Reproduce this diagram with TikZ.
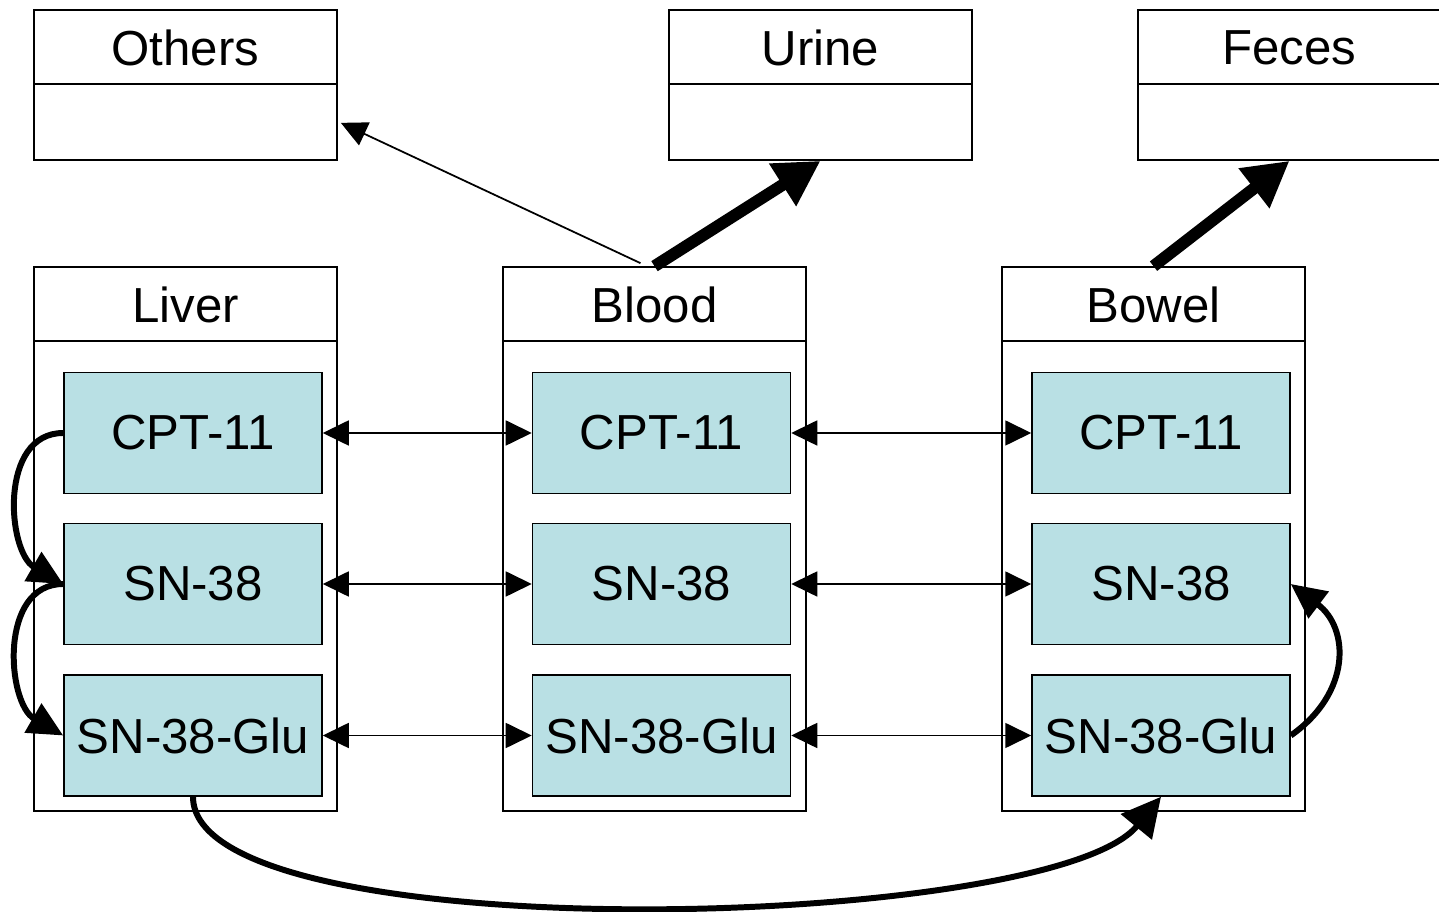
\documentclass[tikz,border=0pt]{standalone}
\usepackage{fontspec}
\setmainfont{Liberation Sans}
\usetikzlibrary{arrows.meta,calc}
\definecolor{cellfill}{RGB}{185,224,228}
\begin{document}
\begin{tikzpicture}[x=0.02cm,y=0.02cm,
  every node/.style={font=\fontsize{28}{32}\selectfont},
  compartment/.style={draw,line width=1pt,minimum width=6.06cm,minimum height=10.88cm,inner sep=0pt},
  sink/.style={draw,line width=1pt,minimum width=6.06cm,minimum height=3cm,inner sep=0pt},
  cell/.style={draw,line width=0.9pt,fill=cellfill,minimum width=5.16cm,minimum height=2.42cm,inner sep=0pt},
  exchange/.style={line width=1pt,{Triangle[length=0.52cm,width=0.5cm]}-{Triangle[length=0.52cm,width=0.5cm]}},
  transfer/.style={line width=1pt,-{Triangle[length=0.52cm,width=0.5cm]}},
  excretion/.style={line width=6.8pt,-{Triangle[length=0.9cm,width=0.95cm]}},
  conversion/.style={line width=3.4pt,-{Triangle[length=0.7cm,width=0.65cm]}},
  divider/.style={line width=1pt}
]
\useasboundingbox (0,0) rectangle (1439,912);

% sinks along the top
\node[sink] (others) at (185.5,827) {};
\node[sink] (urine)  at (820.5,827) {};
\node[sink] (feces)  at (1289.5,827) {};
\foreach \s/\t in {others/Others,urine/Urine,feces/Feces}{
  \draw[divider] ($(\s.north west)+(0,-75)$) -- ($(\s.north east)+(0,-75)$);
  \node (\s-head) at ($(\s.north)+(0,-39)$) {\t};
}

% body compartments
\node[compartment] (liver) at (185.5,373) {};
\node[compartment] (blood) at (654.5,373) {};
\node[compartment] (bowel) at (1153.5,373) {};
\foreach \s/\t in {liver/Liver,blood/Blood,bowel/Bowel}{
  \draw[divider] ($(\s.north west)+(0,-75)$) -- ($(\s.north east)+(0,-75)$);
  \node (\s-head) at ($(\s.north)+(0,-39)$) {\t};
}

% species in each compartment
\foreach \s/\x in {liver/193,blood/661.5,bowel/1161}{
  \node[cell] (\s-cpt) at (\x,479)   {CPT-11};
  \node[cell] (\s-sn)  at (\x,328)   {SN-38};
  \node[cell] (\s-glu) at (\x,176.5) {SN-38-Glu};
}

% exchange between compartments
\foreach \r in {cpt,sn,glu}{
  \draw[exchange] (liver-\r.east) -- (blood-\r.west);
  \draw[exchange] (blood-\r.east) -- (bowel-\r.west);
}

% elimination routes
\coordinate (bloodtop) at ($(blood.north)+(-14,3)$);
\coordinate (otherside) at ($(others.south east)+(3,38)$);
\draw[transfer] (bloodtop) -- (otherside);
\draw[excretion] (blood.north) -- (urine.south);
\draw[excretion] (bowel.north) -- (feces.south);

% metabolic conversions
\draw[conversion] (liver-cpt.west) to[out=180,in=150,looseness=1.1] (liver-sn.west);
\draw[conversion] (liver-sn.west) to[out=180,in=150,looseness=1.1] (liver-glu.west);
\draw[conversion] (bowel-glu.east) to[out=35,in=-37,looseness=1.25] (bowel-sn.east);

% biliary route of the glucuronide
\draw[conversion,-{Triangle[length=0.78cm,width=0.78cm]}] (liver-glu.south) .. controls (193,-40) and (1050,-20) .. (bowel-glu.south);
\end{tikzpicture}
\end{document}
